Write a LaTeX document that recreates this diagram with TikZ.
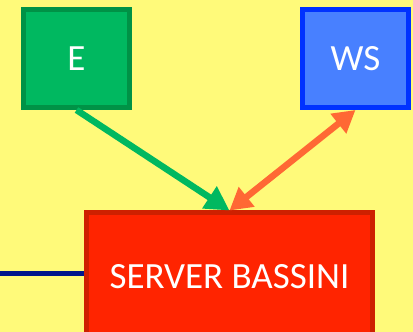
\documentclass[tikz,border=0pt]{standalone}
\usepackage{fontspec}
\setmainfont{Carlito}
\usetikzlibrary{arrows.meta}
\definecolor{bgyellow}{RGB}{255,250,122}
\definecolor{efill}{RGB}{0,184,96}
\definecolor{eborder}{RGB}{0,146,70}
\definecolor{wsfill}{RGB}{72,128,255}
\definecolor{wsborder}{RGB}{0,50,255}
\definecolor{sfill}{RGB}{255,36,0}
\definecolor{sborder}{RGB}{206,32,0}
\definecolor{navy}{RGB}{0,22,140}
\definecolor{orangearr}{RGB}{255,104,52}
\tikzset{
  box/.style={rectangle, line width=5pt, text=white, font=\fontsize{37}{40}\selectfont, inner sep=0pt},
  ebox/.style={box, draw=eborder, fill=efill, minimum width=106pt, minimum height=98pt},
  wsbox/.style={box, draw=wsborder, fill=wsfill, minimum width=106pt, minimum height=98pt},
  sbox/.style={box, draw=sborder, fill=sfill, minimum width=286pt, minimum height=128pt},
  garrow/.style={draw=efill, line width=6.5pt, -{Triangle[length=24pt,width=25pt]}},
  oarrow/.style={draw=orangearr, line width=6.5pt, {Triangle[length=22pt,width=24pt]}-{Triangle[length=22pt,width=24pt]}},
  link/.style={draw=navy, line width=5pt}
}
\begin{document}
\begin{tikzpicture}[x=1pt,y=1pt]
\useasboundingbox (0,0) rectangle (413,332);
\clip (0,0) rectangle (413,332);
\fill[bgyellow] (0,0) rectangle (413,332);
\node[ebox] (E) at (76.5,273.5) {E};
\node[wsbox] (WS) at (355.5,273.5) {WS};
\node[sbox] (S) at (229.5,55) {};
\node[text=white, font=\fontsize{37}{40}\selectfont] (SL) at (229.5,55) {SERVER BASSINI};
\coordinate (L) at (-5,58);
\draw[link] (L) -- (L -| S.west);
\draw[garrow] (E.south) -- (S.north);
\draw[oarrow] (S.north) -- (WS.south);
\end{tikzpicture}
\end{document}
